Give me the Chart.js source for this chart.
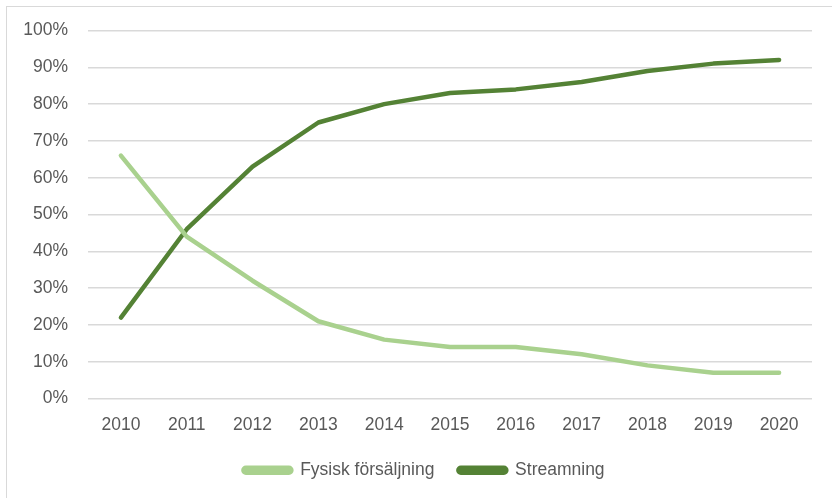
<!DOCTYPE html>
<html>
<head>
<meta charset="utf-8">
<script src="https://cdn.jsdelivr.net/npm/chart.js@4"></script>
<style>
  html, body { margin: 0; padding: 0; background: #fff; overflow: hidden; }
  #frame { position: absolute; left: 6px; top: 6px; width: 840px; height: 510px; border: 1px solid #d9d9d9; }
  #wrap { position: absolute; left: 0; top: 0; width: 832px; height: 498px; }
</style>
</head>
<body>
<div id="frame"></div>
<div id="wrap"><canvas id="chart"></canvas></div>
<script>
// chart data
const years = ['2010', '2011', '2012', '2013', '2014', '2015', '2016', '2017', '2018', '2019', '2020'];
const fysisk = [66, 44, 32, 21, 16, 14, 14, 12, 9, 7, 7];
const streaming = [22, 46, 63, 75, 80, 83, 84, 86, 89, 91, 92];

const textColor = '#595959';
const font = { family: '"Liberation Sans", Arial, sans-serif', size: 17.5 };

// nudge the legend so it centres under the plot, like the original
const legendShift = {
  id: 'legendShift',
  afterLayout(chart) {
    if (chart.legend) {
      chart.legend.left += 36;
    }
  }
};

new Chart(document.getElementById('chart'), {
  type: 'line',
  data: {
    labels: years,
    datasets: [{
      label: 'Fysisk försäljning',
      data: fysisk,
      borderColor: '#a9d18e',
      backgroundColor: '#a9d18e',
      borderWidth: 4.5,
      borderCapStyle: 'round',
      borderJoinStyle: 'round',
      pointRadius: 0,
      tension: 0,
    }, {
      label: 'Streamning',
      data: streaming,
      borderColor: '#548235',
      backgroundColor: '#548235',
      borderWidth: 4.5,
      borderCapStyle: 'round',
      borderJoinStyle: 'round',
      pointRadius: 0,
      tension: 0,
    }]
  },
  options: {
    responsive: true,
    maintainAspectRatio: false,
    animation: false,
    layout: { padding: { left: 0, right: 20, top: 25, bottom: 9 } },
    plugins: {
      tooltip: { enabled: false },
      legend: {
        position: 'bottom',
        labels: {
          color: textColor,
          font: font,
          boxWidth: 48,
          boxHeight: 5,
          useBorderRadius: true,
          borderRadius: 2.5,
          padding: 24,
        }
      }
    },
    scales: {
      x: {
        offset: true,
        grid: { display: false, drawTicks: false },
        border: { display: false },
        ticks: { color: textColor, font: font, padding: 16, maxRotation: 0 },
        afterFit: s => { s.height = 39; }
      },
      y: {
        min: 0,
        max: 100,
        grid: { color: '#d9d9d9', lineWidth: 1.5, drawTicks: false },
        border: { display: false },
        ticks: {
          stepSize: 10,
          color: textColor,
          font: font,
          padding: 20,
          callback: v => v + '%'
        },
        afterFit: s => { s.width = 88; }
      }
    }
  },
  plugins: [legendShift]
});
</script>
</body>
</html>
